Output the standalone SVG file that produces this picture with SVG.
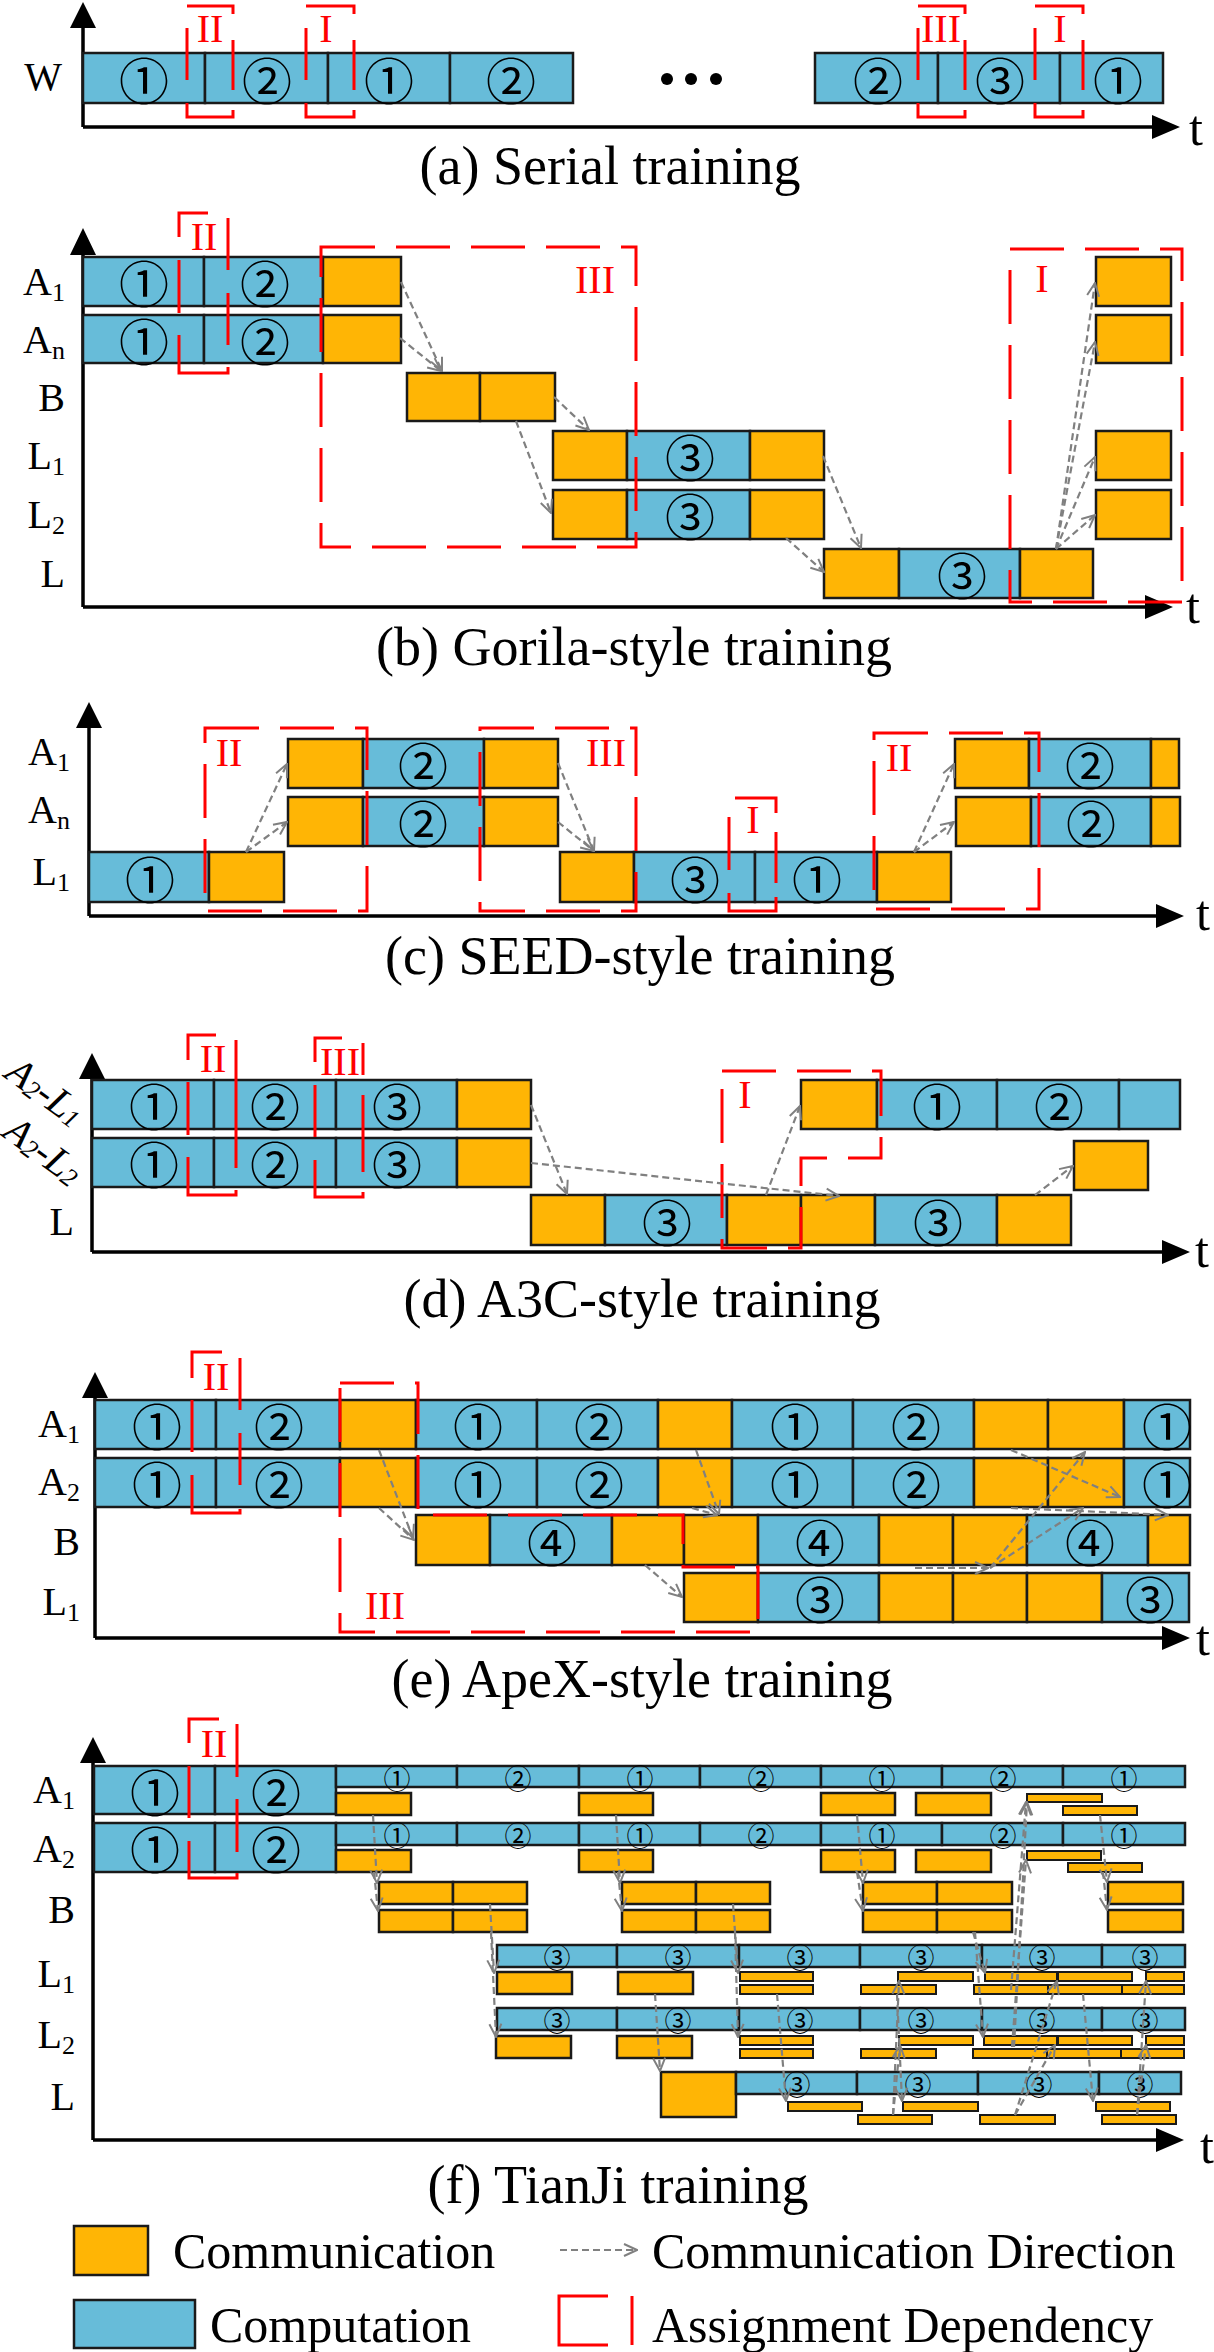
<svg xmlns="http://www.w3.org/2000/svg" width="1214" height="2352" viewBox="0 0 1214 2352">
<defs>
<marker id="ah" viewBox="0 0 16 16" refX="15" refY="8" markerWidth="16" markerHeight="16" markerUnits="userSpaceOnUse" orient="auto"><path d="M2,2 L15,8 L2,14" fill="none" stroke="#808080" stroke-width="2"/></marker>
<style>
.c{fill:#67BCD9;stroke:#1a1a1a;stroke-width:2.5}
.o{fill:#FFB505;stroke:#1a1a1a;stroke-width:2.5}
.os{fill:#FFB505;stroke:#1a1a1a;stroke-width:2}
.ax{fill:none;stroke:#000;stroke-width:3.5}
.ahd{fill:#000}
.lbl{font-family:"Liberation Serif","Times New Roman",serif;font-size:40px;text-anchor:end;fill:#000}
.sub{font-size:26px}
.t{font-family:"Liberation Serif","Times New Roman",serif;font-size:50px;fill:#000}
.cap{font-family:"Liberation Serif","Times New Roman",serif;font-size:54px;text-anchor:middle;fill:#000}
.leg{font-family:"Liberation Serif","Times New Roman",serif;font-size:50px;fill:#000}
.n{font-family:"Noto Sans CJK SC","DejaVu Sans",sans-serif;font-size:50px;text-anchor:middle;dominant-baseline:central;fill:#000}
.ns{font-family:"Noto Sans CJK SC","DejaVu Sans",sans-serif;font-size:27px;text-anchor:middle;dominant-baseline:central;fill:#000}
.rd{fill:none;stroke:#FF0000;stroke-width:3}
.rdd{fill:none;stroke:#FF0000;stroke-width:3;stroke-dasharray:54 21}
.rn{font-family:"Liberation Serif","Times New Roman",serif;font-size:40px;fill:#FF0000;text-anchor:middle}
.rot{font-family:"Liberation Serif","Times New Roman",serif;font-size:40px;font-style:italic;text-anchor:middle;dominant-baseline:central;fill:#000}
.cn{fill:none;stroke:#808080;stroke-width:2.2;stroke-dasharray:7 4;marker-end:url(#ah)}
</style>
</defs>
<rect width="1214" height="2352" fill="#fff"/>

<!-- ===== Panel (a) ===== -->
<g id="panel-a">
<g id="a-axes"><path class="ax" d="M83,127 V25 M83,127 H1155"/><path class="ahd" d="M83,2 L70,28 L96,28 Z M1180,127 L1152,115 L1152,139 Z"/><text class="t" x="1189" y="145">t</text></g>
<text class="lbl" x="62" y="90">W</text>
<g id="a-W">
<rect class="c" x="83" y="53" width="122" height="50"/><text class="n" x="144" y="78">①</text>
<rect class="c" x="205" y="53" width="123" height="50"/><text class="n" x="267" y="78">②</text>
<rect class="c" x="328" y="53" width="122" height="50"/><text class="n" x="389" y="78">①</text>
<rect class="c" x="450" y="53" width="123" height="50"/><text class="n" x="511" y="78">②</text>
<circle cx="667" cy="79" r="6"/><circle cx="691" cy="79" r="6"/><circle cx="716" cy="79" r="6"/>
<rect class="c" x="815" y="53" width="123" height="50"/><text class="n" x="878" y="78">②</text>
<rect class="c" x="938" y="53" width="122" height="50"/><text class="n" x="1000" y="78">③</text>
<rect class="c" x="1060" y="53" width="103" height="50"/><text class="n" x="1118" y="78">①</text>
</g>
<g id="a-deps">
<path class="rd" d="M187,6 H233 V14 M233,40 V90 M233,110 V117 H187 V103 M187,80 V28"/><text class="rn" x="210" y="42">II</text>
<path class="rd" d="M306,6 H354 V14 M354,40 V90 M354,110 V117 H306 V103 M306,80 V28"/><text class="rn" x="326" y="42">I</text>
<path class="rd" d="M918,6 H965 V14 M965,40 V90 M965,110 V117 H918 V103 M918,80 V28"/><text class="rn" x="941" y="42">III</text>
<path class="rd" d="M1035,6 H1083 V14 M1083,40 V90 M1083,110 V117 H1035 V103 M1035,80 V28"/><text class="rn" x="1060" y="42">I</text>
</g>
<text class="cap" x="610" y="184">(a) Serial training</text>
</g>

<!-- ===== Panel (b) ===== -->
<g id="panel-b">
<g id="b-axes"><path class="ax" d="M83,607 V252 M83,607 H1148"/><path class="ahd" d="M83,228 L70,255 L96,255 Z M1173,607 L1145,595 L1145,619 Z"/><text class="t" x="1186" y="623">t</text></g>
<text class="lbl" x="65" y="295">A<tspan class="sub" dy="6">1</tspan></text>
<text class="lbl" x="65" y="353">A<tspan class="sub" dy="6">n</tspan></text>
<text class="lbl" x="65" y="411">B</text>
<text class="lbl" x="65" y="469">L<tspan class="sub" dy="6">1</tspan></text>
<text class="lbl" x="65" y="528">L<tspan class="sub" dy="6">2</tspan></text>
<text class="lbl" x="65" y="587">L</text>
<g id="b-A1">
<rect class="c" x="83" y="257" width="121" height="49"/><text class="n" x="144" y="281">①</text>
<rect class="c" x="204" y="257" width="119" height="49"/><text class="n" x="265" y="281">②</text>
<rect class="o" x="323" y="257" width="78" height="49"/>
<rect class="o" x="1096" y="257" width="75" height="49"/>
</g>
<g id="b-An">
<rect class="c" x="83" y="315" width="121" height="48"/><text class="n" x="144" y="339">①</text>
<rect class="c" x="204" y="315" width="119" height="48"/><text class="n" x="265" y="339">②</text>
<rect class="o" x="323" y="315" width="78" height="48"/>
<rect class="o" x="1096" y="315" width="75" height="48"/>
</g>
<g id="b-B">
<rect class="o" x="407" y="373" width="73" height="48"/>
<rect class="o" x="480" y="373" width="75" height="48"/>
</g>
<g id="b-L1">
<rect class="o" x="553" y="431" width="74" height="49"/>
<rect class="c" x="627" y="431" width="123" height="49"/><text class="n" x="690" y="455">③</text>
<rect class="o" x="750" y="431" width="74" height="49"/>
<rect class="o" x="1096" y="431" width="75" height="49"/>
</g>
<g id="b-L2">
<rect class="o" x="553" y="490" width="74" height="49"/>
<rect class="c" x="627" y="490" width="123" height="49"/><text class="n" x="690" y="514">③</text>
<rect class="o" x="750" y="490" width="74" height="49"/>
<rect class="o" x="1096" y="490" width="75" height="49"/>
</g>
<g id="b-L">
<rect class="o" x="824" y="549" width="75" height="49"/>
<rect class="c" x="899" y="549" width="121" height="49"/><text class="n" x="962" y="573">③</text>
<rect class="o" x="1020" y="549" width="73" height="49"/>
</g>
<g id="b-deps">
<path class="rd" d="M179,237 V213 H208 M228,218 V270 M228,293 V345 M228,367 V373 H179 V335 M179,313 V260"/><text class="rn" x="204" y="250">II</text>
<rect class="rdd" x="321" y="247" width="315" height="300"/><text class="rn" x="595" y="293">III</text>
<rect class="rdd" x="1010" y="249" width="172" height="353"/><text class="rn" x="1042" y="292">I</text>
</g>
<text class="cap" x="634" y="665">(b) Gorila-style training</text>
</g>

<!-- ===== Panel (c) ===== -->
<g id="panel-c">
<g id="c-axes"><path class="ax" d="M89,916 V725 M89,916 H1159"/><path class="ahd" d="M89,702 L76,728 L102,728 Z M1184,916 L1156,904 L1156,928 Z"/><text class="t" x="1196" y="930">t</text></g>
<text class="lbl" x="70" y="765">A<tspan class="sub" dy="6">1</tspan></text>
<text class="lbl" x="70" y="823">A<tspan class="sub" dy="6">n</tspan></text>
<text class="lbl" x="70" y="885">L<tspan class="sub" dy="6">1</tspan></text>
<g id="c-A1">
<rect class="o" x="288" y="739" width="75" height="49"/>
<rect class="c" x="363" y="739" width="121" height="49"/><text class="n" x="423" y="763">②</text>
<rect class="o" x="484" y="739" width="74" height="49"/>
<rect class="o" x="955" y="739" width="74" height="49"/>
<rect class="c" x="1029" y="739" width="122" height="49"/><text class="n" x="1090" y="763">②</text>
<rect class="o" x="1151" y="739" width="28" height="49"/>
</g>
<g id="c-An">
<rect class="o" x="288" y="797" width="75" height="49"/>
<rect class="c" x="363" y="797" width="121" height="49"/><text class="n" x="423" y="821">②</text>
<rect class="o" x="484" y="797" width="74" height="49"/>
<rect class="o" x="956" y="797" width="75" height="49"/>
<rect class="c" x="1031" y="797" width="120" height="49"/><text class="n" x="1091" y="821">②</text>
<rect class="o" x="1151" y="797" width="29" height="49"/>
</g>
<g id="c-L1">
<rect class="c" x="89" y="852" width="120" height="50"/><text class="n" x="150" y="877">①</text>
<rect class="o" x="209" y="852" width="75" height="50"/>
<rect class="o" x="560" y="852" width="74" height="50"/>
<rect class="c" x="634" y="852" width="121" height="50"/><text class="n" x="695" y="877">③</text>
<rect class="c" x="755" y="852" width="122" height="50"/><text class="n" x="817" y="877">①</text>
<rect class="o" x="877" y="852" width="74" height="50"/>
</g>
<g id="c-deps">
<rect class="rdd" x="205" y="728" width="162" height="183"/><text class="rn" x="229" y="766">II</text>
<rect class="rdd" x="480" y="728" width="156" height="183"/><text class="rn" x="606" y="766">III</text>
<path class="rd" d="M735,798 H776 V813 M776,832 V883 M776,897 V911 H729 V893 M729,870 V817"/><text class="rn" x="753" y="833">I</text>
<rect class="rdd" x="874" y="733" width="165" height="176"/><text class="rn" x="899" y="771">II</text>
</g>
<text class="cap" x="640" y="974">(c) SEED-style training</text>
</g>

<!-- ===== Panel (d) ===== -->
<g id="panel-d">
<g id="d-axes"><path class="ax" d="M92,1252 V1077 M92,1252 H1165"/><path class="ahd" d="M92,1053 L79,1079 L105,1079 Z M1190,1252 L1162,1240 L1162,1264 Z"/><text class="t" x="1195" y="1267">t</text></g>
<text class="rot" x="46" y="1091" transform="rotate(36 46 1091)">A<tspan font-size="26" dy="7">2</tspan><tspan dy="-7">-L</tspan><tspan font-size="26" dy="7">1</tspan></text>
<text class="rot" x="44" y="1150" transform="rotate(36 44 1150)">A<tspan font-size="26" dy="7">2</tspan><tspan dy="-7">-L</tspan><tspan font-size="26" dy="7">2</tspan></text>
<text class="lbl" x="74" y="1235">L</text>
<g id="d-A2L1">
<rect class="c" x="92" y="1080" width="122" height="49"/><text class="n" x="154" y="1104">①</text>
<rect class="c" x="214" y="1080" width="122" height="49"/><text class="n" x="275" y="1104">②</text>
<rect class="c" x="336" y="1080" width="121" height="49"/><text class="n" x="397" y="1104">③</text>
<rect class="o" x="457" y="1080" width="74" height="49"/>
<rect class="o" x="801" y="1080" width="76" height="49"/>
<rect class="c" x="877" y="1080" width="120" height="49"/><text class="n" x="937" y="1104">①</text>
<rect class="c" x="997" y="1080" width="122" height="49"/><text class="n" x="1059" y="1104">②</text>
<rect class="c" x="1119" y="1080" width="61" height="49"/>
</g>
<g id="d-A2L2">
<rect class="c" x="92" y="1138" width="122" height="49"/><text class="n" x="154" y="1162">①</text>
<rect class="c" x="214" y="1138" width="122" height="49"/><text class="n" x="275" y="1162">②</text>
<rect class="c" x="336" y="1138" width="121" height="49"/><text class="n" x="397" y="1162">③</text>
<rect class="o" x="457" y="1138" width="74" height="49"/>
<rect class="o" x="1074" y="1141" width="74" height="49"/>
</g>
<g id="d-L">
<rect class="o" x="531" y="1195" width="74" height="50"/>
<rect class="c" x="605" y="1195" width="122" height="50"/><text class="n" x="667" y="1220">③</text>
<rect class="o" x="727" y="1195" width="74" height="50"/>
<rect class="o" x="801" y="1195" width="74" height="50"/>
<rect class="c" x="875" y="1195" width="122" height="50"/><text class="n" x="938" y="1220">③</text>
<rect class="o" x="997" y="1195" width="74" height="50"/>
</g>
<g id="d-deps">
<path class="rd" d="M188,1060 V1035 H216 M236,1040 V1168 M236,1190 V1195 H188 V1157 M188,1135 V1082"/><text class="rn" x="213" y="1072">II</text>
<path class="rd" d="M315,1062 V1038 H342 M363,1043 V1075 M363,1095 V1172 M363,1192 V1197 H315 V1160 M315,1137 V1085"/><text class="rn" x="340" y="1075">III</text>
<path class="rdd" d="M722,1071 H881 V1158 H801 V1248 H722 Z"/><text class="rn" x="745" y="1108">I</text>
</g>
<text class="cap" x="642" y="1317">(d) A3C-style training</text>
</g>

<!-- ===== Panel (e) ===== -->
<g id="panel-e">
<g id="e-axes"><path class="ax" d="M95,1638 V1396 M95,1638 H1165"/><path class="ahd" d="M95,1372 L82,1398 L108,1398 Z M1190,1638 L1162,1626 L1162,1650 Z"/><text class="t" x="1196" y="1655">t</text></g>
<text class="lbl" x="80" y="1437">A<tspan class="sub" dy="6">1</tspan></text>
<text class="lbl" x="80" y="1495">A<tspan class="sub" dy="6">2</tspan></text>
<text class="lbl" x="80" y="1555">B</text>
<text class="lbl" x="80" y="1615">L<tspan class="sub" dy="6">1</tspan></text>
<g id="e-A1">
<rect class="c" x="95" y="1400" width="121" height="49"/><text class="n" x="157" y="1424">①</text>
<rect class="c" x="216" y="1400" width="124" height="49"/><text class="n" x="279" y="1424">②</text>
<rect class="o" x="340" y="1400" width="76" height="49"/>
<rect class="c" x="416" y="1400" width="121" height="49"/><text class="n" x="478" y="1424">①</text>
<rect class="c" x="537" y="1400" width="121" height="49"/><text class="n" x="599" y="1424">②</text>
<rect class="o" x="658" y="1400" width="74" height="49"/>
<rect class="c" x="732" y="1400" width="121" height="49"/><text class="n" x="795" y="1424">①</text>
<rect class="c" x="853" y="1400" width="121" height="49"/><text class="n" x="916" y="1424">②</text>
<rect class="o" x="974" y="1400" width="74" height="49"/>
<rect class="o" x="1048" y="1400" width="76" height="49"/>
<rect class="c" x="1124" y="1400" width="66" height="49"/><text class="n" x="1167" y="1424">①</text>
</g>
<g id="e-A2">
<rect class="c" x="95" y="1458" width="121" height="49"/><text class="n" x="157" y="1482">①</text>
<rect class="c" x="216" y="1458" width="124" height="49"/><text class="n" x="279" y="1482">②</text>
<rect class="o" x="340" y="1458" width="76" height="49"/>
<rect class="c" x="416" y="1458" width="121" height="49"/><text class="n" x="478" y="1482">①</text>
<rect class="c" x="537" y="1458" width="121" height="49"/><text class="n" x="599" y="1482">②</text>
<rect class="o" x="658" y="1458" width="74" height="49"/>
<rect class="c" x="732" y="1458" width="121" height="49"/><text class="n" x="795" y="1482">①</text>
<rect class="c" x="853" y="1458" width="121" height="49"/><text class="n" x="916" y="1482">②</text>
<rect class="o" x="974" y="1458" width="74" height="49"/>
<rect class="o" x="1048" y="1458" width="76" height="49"/>
<rect class="c" x="1124" y="1458" width="66" height="49"/><text class="n" x="1167" y="1482">①</text>
</g>
<g id="e-B">
<rect class="o" x="416" y="1515" width="74" height="50"/>
<rect class="c" x="490" y="1515" width="122" height="50"/><text class="n" x="552" y="1540">④</text>
<rect class="o" x="612" y="1515" width="72" height="50"/>
<rect class="o" x="684" y="1515" width="74" height="50"/>
<rect class="c" x="758" y="1515" width="121" height="50"/><text class="n" x="820" y="1540">④</text>
<rect class="o" x="879" y="1515" width="74" height="50"/>
<rect class="o" x="953" y="1515" width="74" height="50"/>
<rect class="c" x="1027" y="1515" width="121" height="50"/><text class="n" x="1090" y="1540">④</text>
<rect class="o" x="1148" y="1515" width="42" height="50"/>
</g>
<g id="e-L1">
<rect class="o" x="684" y="1573" width="74" height="49"/>
<rect class="c" x="758" y="1573" width="121" height="49"/><text class="n" x="820" y="1597">③</text>
<rect class="o" x="879" y="1573" width="74" height="49"/>
<rect class="o" x="953" y="1573" width="74" height="49"/>
<rect class="o" x="1027" y="1573" width="75" height="49"/>
<rect class="c" x="1102" y="1573" width="87" height="49"/><text class="n" x="1150" y="1597">③</text>
</g>
<g id="e-deps">
<path class="rd" d="M192,1378 V1352 H222 M240,1358 V1410 M240,1433 V1485 M240,1509 V1513 H192 V1475 M192,1452 V1400"/><text class="rn" x="216" y="1390">II</text>
<path class="rdd" d="M340,1383 H418 V1515 H683 V1567 H758 V1632 H340 Z"/><text class="rn" x="385" y="1619">III</text>
</g>
<text class="cap" x="642" y="1697">(e) ApeX-style training</text>
</g>

<!-- ===== Panel (f) ===== -->
<g id="panel-f">
<g id="f-axes"><path class="ax" d="M93,2140 V1760 M93,2140 H1158"/><path class="ahd" d="M93,1737 L80,1763 L106,1763 Z M1184,2140 L1156,2128 L1156,2152 Z"/><text class="t" x="1200" y="2163">t</text></g>
<text class="lbl" x="75" y="1803">A<tspan class="sub" dy="6">1</tspan></text>
<text class="lbl" x="75" y="1862">A<tspan class="sub" dy="6">2</tspan></text>
<text class="lbl" x="75" y="1923">B</text>
<text class="lbl" x="75" y="1987">L<tspan class="sub" dy="6">1</tspan></text>
<text class="lbl" x="75" y="2048">L<tspan class="sub" dy="6">2</tspan></text>
<text class="lbl" x="75" y="2110">L</text>
<g id="f-A1">
<rect class="c" x="94" y="1766" width="121" height="48"/><text class="n" x="155" y="1790">①</text>
<rect class="c" x="215" y="1766" width="121" height="48"/><text class="n" x="276" y="1790">②</text>
<rect class="c" x="336" y="1766" width="121" height="21"/><text class="ns" x="397" y="1777">①</text>
<rect class="c" x="457" y="1766" width="122" height="21"/><text class="ns" x="518" y="1777">②</text>
<rect class="c" x="579" y="1766" width="121" height="21"/><text class="ns" x="640" y="1777">①</text>
<rect class="c" x="700" y="1766" width="121" height="21"/><text class="ns" x="761" y="1777">②</text>
<rect class="c" x="821" y="1766" width="121" height="21"/><text class="ns" x="882" y="1777">①</text>
<rect class="c" x="942" y="1766" width="121" height="21"/><text class="ns" x="1003" y="1777">②</text>
<rect class="c" x="1063" y="1766" width="122" height="21"/><text class="ns" x="1124" y="1777">①</text>
<rect class="o" x="336" y="1793" width="75" height="22"/>
<rect class="o" x="579" y="1793" width="74" height="22"/>
<rect class="o" x="821" y="1793" width="74" height="22"/>
<rect class="o" x="916" y="1793" width="75" height="22"/>
<rect class="os" x="1027" y="1794" width="75" height="8"/>
<rect class="os" x="1063" y="1806" width="74" height="9"/>
</g>
<g id="f-A2">
<rect class="c" x="94" y="1823" width="121" height="49"/><text class="n" x="155" y="1847">①</text>
<rect class="c" x="215" y="1823" width="121" height="49"/><text class="n" x="276" y="1847">②</text>
<rect class="c" x="336" y="1823" width="121" height="22"/><text class="ns" x="397" y="1834">①</text>
<rect class="c" x="457" y="1823" width="122" height="22"/><text class="ns" x="518" y="1834">②</text>
<rect class="c" x="579" y="1823" width="121" height="22"/><text class="ns" x="640" y="1834">①</text>
<rect class="c" x="700" y="1823" width="121" height="22"/><text class="ns" x="761" y="1834">②</text>
<rect class="c" x="821" y="1823" width="121" height="22"/><text class="ns" x="882" y="1834">①</text>
<rect class="c" x="942" y="1823" width="121" height="22"/><text class="ns" x="1003" y="1834">②</text>
<rect class="c" x="1063" y="1823" width="122" height="22"/><text class="ns" x="1124" y="1834">①</text>
<rect class="o" x="336" y="1850" width="75" height="22"/>
<rect class="o" x="579" y="1850" width="74" height="22"/>
<rect class="o" x="821" y="1850" width="74" height="22"/>
<rect class="o" x="916" y="1850" width="75" height="22"/>
<rect class="os" x="1027" y="1851" width="74" height="9"/>
<rect class="os" x="1068" y="1863" width="74" height="9"/>
</g>
<g id="f-B">
<rect class="o" x="379" y="1882" width="74" height="22"/><rect class="o" x="453" y="1882" width="74" height="22"/>
<rect class="o" x="622" y="1882" width="74" height="22"/><rect class="o" x="696" y="1882" width="74" height="22"/>
<rect class="o" x="863" y="1882" width="74" height="22"/><rect class="o" x="937" y="1882" width="75" height="22"/>
<rect class="o" x="1108" y="1882" width="75" height="22"/>
<rect class="o" x="379" y="1910" width="74" height="22"/><rect class="o" x="453" y="1910" width="74" height="22"/>
<rect class="o" x="622" y="1910" width="74" height="22"/><rect class="o" x="696" y="1910" width="74" height="22"/>
<rect class="o" x="863" y="1910" width="74" height="22"/><rect class="o" x="937" y="1910" width="75" height="22"/>
<rect class="o" x="1108" y="1910" width="75" height="22"/>
</g>
<g id="f-L1">
<rect class="c" x="497" y="1945" width="120" height="22"/><text class="ns" x="557" y="1956">③</text>
<rect class="c" x="617" y="1945" width="122" height="22"/><text class="ns" x="678" y="1956">③</text>
<rect class="c" x="739" y="1945" width="121" height="22"/><text class="ns" x="800" y="1956">③</text>
<rect class="c" x="860" y="1945" width="122" height="22"/><text class="ns" x="921" y="1956">③</text>
<rect class="c" x="982" y="1945" width="120" height="22"/><text class="ns" x="1042" y="1956">③</text>
<rect class="c" x="1102" y="1945" width="83" height="22"/><text class="ns" x="1145" y="1956">③</text>
<rect class="o" x="497" y="1972" width="75" height="22"/>
<rect class="o" x="618" y="1972" width="75" height="22"/>
<rect class="os" x="740" y="1972" width="73" height="9"/><rect class="os" x="898" y="1972" width="75" height="9"/><rect class="os" x="985" y="1972" width="72" height="9"/><rect class="os" x="1058" y="1972" width="74" height="9"/><rect class="os" x="1146" y="1972" width="38" height="9"/>
<rect class="os" x="740" y="1985" width="73" height="9"/><rect class="os" x="861" y="1985" width="75" height="9"/><rect class="os" x="974" y="1985" width="74" height="9"/><rect class="os" x="1048" y="1985" width="74" height="9"/><rect class="os" x="1122" y="1985" width="62" height="9"/>
</g>
<g id="f-L2">
<rect class="c" x="497" y="2008" width="120" height="22"/><text class="ns" x="557" y="2019">③</text>
<rect class="c" x="617" y="2008" width="122" height="22"/><text class="ns" x="678" y="2019">③</text>
<rect class="c" x="739" y="2008" width="121" height="22"/><text class="ns" x="800" y="2019">③</text>
<rect class="c" x="860" y="2008" width="122" height="22"/><text class="ns" x="921" y="2019">③</text>
<rect class="c" x="982" y="2008" width="120" height="22"/><text class="ns" x="1042" y="2019">③</text>
<rect class="c" x="1102" y="2008" width="83" height="22"/><text class="ns" x="1145" y="2019">③</text>
<rect class="o" x="496" y="2036" width="75" height="22"/>
<rect class="o" x="617" y="2036" width="75" height="22"/>
<rect class="os" x="740" y="2036" width="73" height="9"/><rect class="os" x="899" y="2036" width="74" height="9"/><rect class="os" x="984" y="2036" width="73" height="9"/><rect class="os" x="1058" y="2036" width="74" height="9"/><rect class="os" x="1146" y="2036" width="38" height="9"/>
<rect class="os" x="740" y="2049" width="73" height="9"/><rect class="os" x="861" y="2049" width="75" height="9"/><rect class="os" x="973" y="2049" width="74" height="9"/><rect class="os" x="1047" y="2049" width="74" height="9"/><rect class="os" x="1121" y="2049" width="63" height="9"/>
</g>
<g id="f-L">
<rect class="o" x="661" y="2072" width="75" height="45"/>
<rect class="c" x="736" y="2072" width="121" height="22"/><text class="ns" x="797" y="2083">③</text>
<rect class="c" x="857" y="2072" width="121" height="22"/><text class="ns" x="918" y="2083">③</text>
<rect class="c" x="978" y="2072" width="121" height="22"/><text class="ns" x="1039" y="2083">③</text>
<rect class="c" x="1099" y="2072" width="82" height="22"/><text class="ns" x="1140" y="2083">③</text>
<rect class="os" x="788" y="2102" width="74" height="9"/><rect class="os" x="903" y="2102" width="75" height="9"/><rect class="os" x="1096" y="2102" width="74" height="9"/>
<rect class="os" x="858" y="2115" width="74" height="9"/><rect class="os" x="980" y="2115" width="75" height="9"/><rect class="os" x="1102" y="2115" width="74" height="9"/>
</g>
<g id="f-deps">
<path class="rd" d="M189,1743 V1719 H219 M237,1724 V1777 M237,1799 V1852 M237,1873 V1878 H189 V1841 M189,1818 V1766"/><text class="rn" x="214" y="1757">II</text>
</g>
<text class="cap" x="618" y="2203">(f) TianJi training</text>
</g>

<!-- ===== Connectors ===== -->
<g id="connectors">
<path class="cn" d="M401,282 L442,371"/>
<path class="cn" d="M400,338 L441,371"/>
<path class="cn" d="M554,397 L589,430"/>
<path class="cn" d="M516,421 L551,513"/>
<path class="cn" d="M823,456 L861,548"/>
<path class="cn" d="M786,538 L824,572"/>
<path class="cn" d="M1056,549 L1095,283"/>
<path class="cn" d="M1056,549 L1095,342"/>
<path class="cn" d="M1056,549 L1095,457"/>
<path class="cn" d="M1056,549 L1095,515"/>

<path class="cn" d="M246,852 L287,764"/>
<path class="cn" d="M246,852 L287,822"/>
<path class="cn" d="M558,763 L594,851"/>
<path class="cn" d="M558,822 L594,851"/>
<path class="cn" d="M914,852 L954,764"/>
<path class="cn" d="M914,852 L954,822"/>

<path class="cn" d="M531,1105 L567,1194"/>
<path class="cn" d="M531,1163 L839,1196"/>
<path class="cn" d="M766,1195 L800,1106"/>
<path class="cn" d="M1035,1195 L1073,1166"/>

<path class="cn" d="M379,1450 L413,1538"/>
<path class="cn" d="M379,1508 L414,1540"/>
<path class="cn" d="M696,1450 L719,1514"/>
<path class="cn" d="M692,1508 L717,1515"/>
<path class="cn" d="M645,1565 L682,1597"/>
<path class="cn" d="M1011,1450 L1120,1497"/>
<path class="cn" d="M1011,1508 L1168,1515"/>
<path class="cn" d="M915,1568 L988,1568"/>
<path class="cn" d="M990,1568 L1085,1452"/>
<path class="cn" d="M990,1568 L1083,1508"/>

<path class="cn" d="M373,1815 L377,1883"/>
<path class="cn" d="M374,1872 L378,1911"/>
<path class="cn" d="M616,1815 L620,1883"/>
<path class="cn" d="M618,1872 L622,1911"/>
<path class="cn" d="M490,1904 L494,1973"/>
<path class="cn" d="M491,1932 L496,2037"/>
<path class="cn" d="M655,1994 L660,2071"/>
<path class="cn" d="M733,1904 L738,1973"/>
<path class="cn" d="M735,1932 L738,2037"/>
<path class="cn" d="M857,1815 L863,1883"/>
<path class="cn" d="M857,1872 L863,1911"/>
<path class="cn" d="M973,1932 L985,1973"/>
<path class="cn" d="M975,1932 L983,2037"/>
<path class="cn" d="M777,1994 L786,2101"/>
<path class="cn" d="M897,1994 L902,2101"/>
<path class="cn" d="M893,2115 L899,1981"/>
<path class="cn" d="M893,2115 L900,2045"/>
<path class="cn" d="M1011,1990 L1026,1802"/>
<path class="cn" d="M1012,2047 L1026,1860"/>
<path class="cn" d="M1014,2047 L1027,1802"/>
<path class="cn" d="M1015,2115 L1057,1981"/>
<path class="cn" d="M1015,2115 L1055,2045"/>
<path class="cn" d="M1083,1994 L1093,2101"/>
<path class="cn" d="M1137,2115 L1146,1981"/>
<path class="cn" d="M1137,2115 L1146,2045"/>
<path class="cn" d="M1100,1815 L1107,1882"/>
<path class="cn" d="M1103,1872 L1107,1910"/>
</g>

<!-- ===== Legend ===== -->
<g id="legend">
<g id="leg-comm"><rect class="o" x="74" y="2226" width="74" height="49"/><text class="leg" x="173" y="2268">Communication</text></g>
<g id="leg-dir"><path class="cn" d="M560,2250 L637,2250"/><text class="leg" x="652" y="2268">Communication Direction</text></g>
<g id="leg-comp"><rect class="c" x="74" y="2300" width="121" height="48"/><text class="leg" x="210" y="2342">Computation</text></g>
<g id="leg-dep"><path class="rd" d="M608,2296 H559 V2345 H608 M632,2296 V2345"/><text class="leg" x="652" y="2342">Assignment Dependency</text></g>
</g>
</svg>
